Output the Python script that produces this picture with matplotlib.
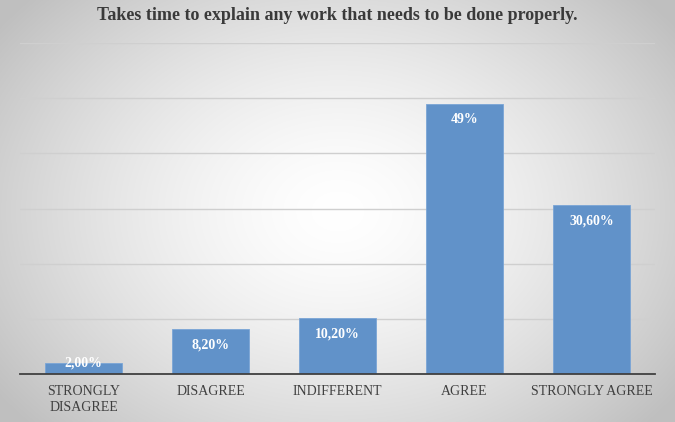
import numpy as np
import matplotlib
matplotlib.use("Agg")
import matplotlib.pyplot as plt

categories = ["STRONGLY\nDISAGREE", "DISAGREE", "INDIFFERENT", "AGREE", "STRONGLY AGREE"]
values = [2.0, 8.2, 10.2, 49.0, 30.6]
labels = ["2,00%", "8,20%", "10,20%", "49%", "30,60%"]
title = "Takes time to explain any work that needs to be done properly."

W, H = 675, 422
fig = plt.figure(figsize=(W / 100, H / 100), dpi=100)

# radial gradient background
bg = fig.add_axes([0, 0, 1, 1], zorder=0)
yy, xx = np.mgrid[0:H, 0:W]
cx, cy = W * 0.5, H * 0.5
r = np.sqrt(((xx - cx) / (W * 0.62)) ** 2 + ((yy - cy) / (H * 0.75)) ** 2)
r = np.clip(r, 0, 1)
val = 1.0 - 0.25 * r ** 1.5
img = np.dstack([val, val, val])
bg.imshow(img, aspect="auto", extent=[0, 1, 0, 1], origin="upper")
bg.axis("off")

ax = fig.add_axes([20 / W, 1 - 374 / H, 635 / W, (374 - 43) / H], zorder=1)
ax.patch.set_alpha(0)
x = np.arange(len(categories))
bars = ax.bar(x, values, width=0.6, color="#6192C9", edgecolor="#7aa5d6", linewidth=0.6, zorder=3)
ax.set_xlim(-0.5, len(categories) - 0.5)
ax.set_ylim(0, 60)
ax.set_yticks(np.arange(0, 61, 10))
ax.yaxis.grid(True, color="#cfcfcf", linewidth=1.0, zorder=0)
ax.tick_params(axis="y", length=0, labelleft=False)
ax.tick_params(axis="x", length=0, pad=8)
ax.set_xticks(x)
ax.set_xticklabels(categories, fontfamily="Liberation Serif", fontsize=10, color="#404040", linespacing=1.3)
for s in ["top", "right", "left"]:
    ax.spines[s].set_visible(False)
ax.spines["bottom"].set_color("#404040")
ax.spines["bottom"].set_linewidth(1.3)
ax.spines["bottom"].set_zorder(4)

for xi, v, lab in zip(x, values, labels):
    off = -16 if v > 5 else 0
    ax.annotate(lab, (xi, v), xytext=(0, off * 0.72), textcoords="offset points",
                ha="center", va="center", color="white", fontweight="bold",
                fontfamily="Liberation Serif", fontsize=10, zorder=5)

fig.text(0.5, 1 - 15 / H, title, ha="center", va="center", fontfamily="Liberation Serif",
         fontweight="bold", fontsize=13, color="#3a3a3a")

fig.savefig("out.png", dpi=100)
